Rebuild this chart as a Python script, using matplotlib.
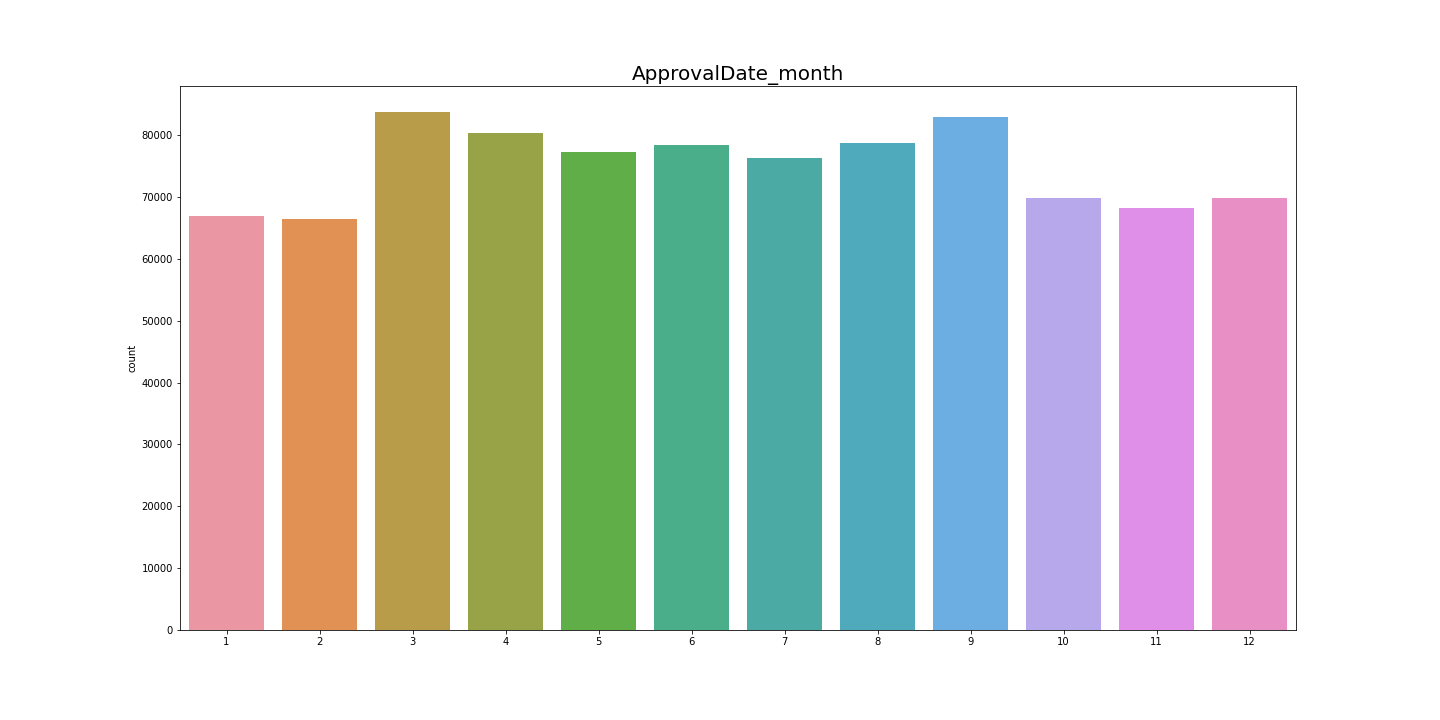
import matplotlib
matplotlib.use("Agg")
import matplotlib.pyplot as plt
import seaborn as sns

months = ["1", "2", "3", "4", "5", "6", "7", "8", "9", "10", "11", "12"]
counts = [67000, 66400, 83700, 80300, 77200, 78400, 76300, 78700, 82900, 69800, 68300, 69900]

palette = [sns.desaturate(c, 0.75) for c in sns.husl_palette(len(months), l=.7)]

fig = plt.figure(figsize=(20, 10), dpi=72)
ax = fig.add_axes([0.125, 0.125, 0.775, 0.755])
x = range(len(months))
ax.bar(x, counts, width=0.8, color=palette)
ax.set_xticks(list(x))
ax.set_xticklabels(months)
ax.set_xlim(-0.5, len(months) - 0.5)
ax.set_ylim(0, max(counts) * 1.05)
ax.set_ylabel("count")
ax.set_title("ApprovalDate_month", fontsize=20)
fig.savefig("out.png", dpi=72)
